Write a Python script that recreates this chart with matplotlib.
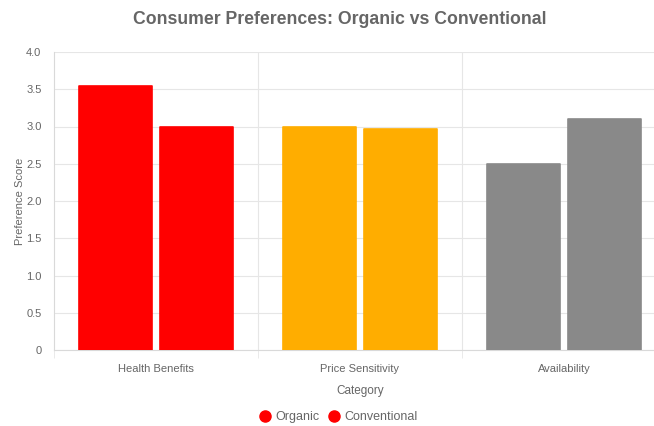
import matplotlib.pyplot as plt
from matplotlib.lines import Line2D
import numpy as np

plt.rcParams['font.family'] = ['Liberation Sans', 'DejaVu Sans']

categories = ['Health Benefits', 'Price Sensitivity', 'Availability']
organic = [3.55, 3.0, 2.5]
conventional = [3.0, 2.97, 3.1]
bar_colors = ['#FF0000', '#FFAD00', '#898989']
y_ticks = [0, 0.5, 1.0, 1.5, 2.0, 2.5, 3.0, 3.5, 4.0]
y_tick_labels = ['0', '0.5', '1.0', '1.5', '2.0', '2.5', '3.0', '3.5', '4.0']

TEXTE = '#666666'
GRILLE = '#E6E6E6'

fig = plt.figure(figsize=(6.54, 4.26), dpi=100)
fig.patch.set_facecolor('white')
ax = fig.add_axes([54 / 654, 1 - 350 / 426, 612 / 654, 298 / 426])

x = np.arange(len(categories))
largeur = 0.355
for serie, decal in [(organic, -0.199), (conventional, 0.199)]:
    ax.bar(x + decal, serie, width=largeur, color=bar_colors,
           edgecolor=bar_colors, linewidth=1.2, joinstyle='round', zorder=3)

ax.set_xlim(-0.5, 2.5)
ax.set_ylim(0, 4.0)
ax.set_yticks(y_ticks)
ax.set_yticklabels(y_tick_labels)
ax.set_xticks(x)
ax.set_xticklabels(categories)
ax.set_xticks([-0.5, 0.5, 1.5, 2.5], minor=True)
ax.tick_params(axis='y', length=0, pad=9, labelsize=8, labelcolor=TEXTE)
ax.tick_params(axis='x', which='major', length=0, pad=10, labelsize=8, labelcolor=TEXTE)
ax.tick_params(axis='x', which='minor', length=6, color=GRILLE)

ax.grid(axis='y', color=GRILLE, linewidth=0.8, zorder=0)
for xv in [0.5, 1.5]:
    ax.axvline(xv, color=GRILLE, linewidth=0.8, zorder=0)

for cote in ['top', 'right']:
    ax.spines[cote].set_visible(False)
for cote in ['left', 'bottom']:
    ax.spines[cote].set_color('#D9D9D9')
    ax.spines[cote].set_linewidth(0.8)

ax.set_xlabel('Category', fontsize=8.5, color=TEXTE, labelpad=8)
ax.set_ylabel('Preference Score', fontsize=8, color=TEXTE, labelpad=1)

fig.text(340 / 654, 1 - 19 / 426, 'Consumer Preferences: Organic vs Conventional',
         ha='center', va='center', fontsize=12.7, fontweight='bold', color=TEXTE)

poignees = [Line2D([], [], marker='o', linestyle='', markersize=8,
                   markerfacecolor='#FF0000', markeredgecolor='#FF0000')
            for _ in range(2)]
fig.legend(poignees, ['Organic', 'Conventional'], loc='center',
           bbox_to_anchor=(338 / 654, 1 - 417 / 426), ncol=2, frameon=False,
           fontsize=9, labelcolor=TEXTE, handletextpad=0.3, columnspacing=0.7,
           handlelength=1.0)

fig.savefig('out.png', dpi=100)
